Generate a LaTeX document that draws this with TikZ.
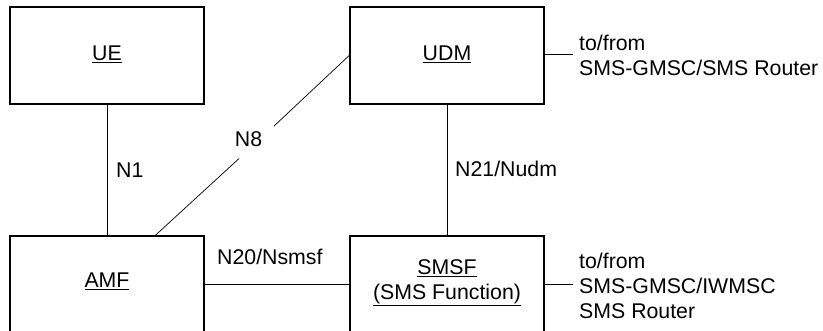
\documentclass[tikz,border=0pt]{standalone}
\usepackage{fontspec}
\setmainfont{Liberation Sans}
\usetikzlibrary{calc}
\tikzset{
  nfbox/.style={draw=black, line width=1.3pt, inner sep=0pt, minimum width=194pt, fill=none},
  conn/.style={draw=black, line width=0.9pt},
  lbl/.style={inner sep=0pt, font=\fontsize{21.3}{25}\selectfont},
  side/.style={inner sep=0pt, font=\fontsize{21.3}{25}\selectfont, align=left, anchor=west},
}
\begin{document}
\begin{tikzpicture}[x=1pt,y=-1pt]
\useasboundingbox (0,0) rectangle (823,331);
\clip (0,0) rectangle (823,331);
% boxes
\node[nfbox, minimum height=97pt] (ue) at (107,55.5) {};
\node[nfbox, minimum height=97pt] (udm) at (447,55.5) {};
\node[nfbox, minimum height=150pt] (amf) at (107,311) {};
\node[nfbox, minimum height=150pt] (smsf) at (447,311) {};
% box texts
\node[lbl] (uet) at (107,54) {\underline{UE}};
\node[lbl] (udmt) at (447,54) {\underline{UDM}};
\node[lbl] (amft) at (107,281) {\underline{AMF}};
\node[lbl, align=center] (smsft) at (447,283) {\underline{SMSF}\\\underline{(SMS Function)}};
% connectors
\draw[conn] (ue.south) -- (amf.north);
\draw[conn] (udm.south) -- (smsf.north);
\draw[conn] (amf.east |- 0,284) coordinate (amfe) -- (smsf.west |- amfe);
\coordinate (n8a) at ($(amf.north west)+(146,0)$);
\coordinate (n8b) at ($(udm.north west)+(0,49)$);
\node[circle, inner sep=0pt, minimum size=47pt] (g8) at (256.5,142.5) {};
\draw[conn, line width=0.7pt] (n8a) -- (g8);
\draw[conn, line width=0.7pt] (g8) -- (n8b);
% interface labels
\node[lbl, anchor=west] (n1) at (116,170) {N1};
\node[lbl] (n8) at (248.5,139.5) {N8};
\node[lbl, anchor=west] (n20) at (217,257) {N20/Nsmsf};
\node[lbl, anchor=west] (n21) at (455,169) {N21/Nudm};
% external
\node[side] (ext1) at (579,55.5) {to/from\\SMS-GMSC/SMS Router};
\node[side] (ext2) at (579,286) {to/from\\SMS-GMSC/IWMSC\\SMS Router};
\coordinate (e1) at (573,54);
\coordinate (e2) at (573,284);
\draw[conn] (udm.east |- e1) -- (e1);
\draw[conn] (smsf.east |- e2) -- (e2);
\end{tikzpicture}
\end{document}
